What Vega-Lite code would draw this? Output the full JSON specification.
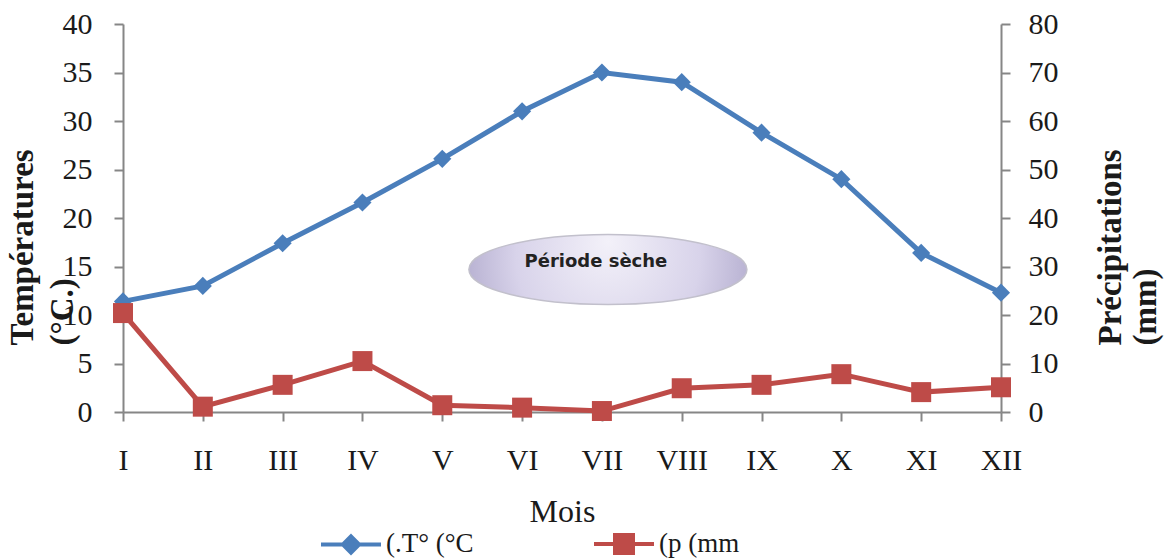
{
  "$schema": "https://vega.github.io/schema/vega-lite/v6.json",
  "width": 878,
  "height": 388,
  "autosize": {"type": "none"},
  "padding": {"left": 123, "top": 24, "right": 164, "bottom": 148},
  "background": "white",
  "config": {
    "view": {"stroke": null},
    "font": "Liberation Serif",
    "axis": {
      "domainColor": "#868686",
      "domainWidth": 2,
      "tickColor": "#868686",
      "tickWidth": 2,
      "tickSize": 9,
      "grid": false,
      "labelFont": "Liberation Serif",
      "labelFontSize": 30,
      "labelColor": "#1a1a1a",
      "titleFont": "Liberation Serif",
      "titleColor": "#1a1a1a"
    }
  },
  "datasets": {
    "temperature": [
      {"mois": "I", "serie": "(.T° (°C", "valeur": 11.4},
      {"mois": "II", "serie": "(.T° (°C", "valeur": 13.0},
      {"mois": "III", "serie": "(.T° (°C", "valeur": 17.4},
      {"mois": "IV", "serie": "(.T° (°C", "valeur": 21.6},
      {"mois": "V", "serie": "(.T° (°C", "valeur": 26.1},
      {"mois": "VI", "serie": "(.T° (°C", "valeur": 31.0},
      {"mois": "VII", "serie": "(.T° (°C", "valeur": 35.0},
      {"mois": "VIII", "serie": "(.T° (°C", "valeur": 34.0},
      {"mois": "IX", "serie": "(.T° (°C", "valeur": 28.8},
      {"mois": "X", "serie": "(.T° (°C", "valeur": 24.0},
      {"mois": "XI", "serie": "(.T° (°C", "valeur": 16.4},
      {"mois": "XII", "serie": "(.T° (°C", "valeur": 12.3}
    ],
    "precipitation": [
      {"mois": "I", "serie": "(p (mm", "valeur": 20.4},
      {"mois": "II", "serie": "(p (mm", "valeur": 1.1},
      {"mois": "III", "serie": "(p (mm", "valeur": 5.6},
      {"mois": "IV", "serie": "(p (mm", "valeur": 10.5},
      {"mois": "V", "serie": "(p (mm", "valeur": 1.4},
      {"mois": "VI", "serie": "(p (mm", "valeur": 0.9},
      {"mois": "VII", "serie": "(p (mm", "valeur": 0.2},
      {"mois": "VIII", "serie": "(p (mm", "valeur": 4.9},
      {"mois": "IX", "serie": "(p (mm", "valeur": 5.6},
      {"mois": "X", "serie": "(p (mm", "valeur": 7.8},
      {"mois": "XI", "serie": "(p (mm", "valeur": 4.1},
      {"mois": "XII", "serie": "(p (mm", "valeur": 5.1}
    ],
    "periode": [
      {"mois": "VII", "valeur": 14.7, "texte": "Période sèche"}
    ]
  },
  "encoding": {
    "x": {
      "field": "mois",
      "type": "ordinal",
      "sort": ["I", "II", "III", "IV", "V", "VI", "VII", "VIII", "IX", "X", "XI", "XII"],
      "scale": {"type": "point", "padding": 0, "domain": ["I", "II", "III", "IV", "V", "VI", "VII", "VIII", "IX", "X", "XI", "XII"]},
      "axis": {
        "title": "Mois",
        "titleFontSize": 32,
        "titleFontWeight": "normal",
        "titlePadding": 21,
        "labelAngle": 0,
        "labelPadding": 24
      }
    }
  },
  "layer": [
    {
      "encoding": {
        "y": {
          "field": "valeur",
          "type": "quantitative",
          "scale": {"domain": [0, 40], "nice": false, "zero": true},
          "axis": {
            "orient": "left",
            "values": [0, 5, 10, 15, 20, 25, 30, 35, 40],
            "labelPadding": 22,
            "title": ["Températures", "(°C.)"],
            "titleFontSize": 33,
            "titleFontWeight": "bold",
            "titleAngle": -90,
            "titleAlign": "left",
            "titleBaseline": "top",
            "titleLineHeight": 40,
            "titleX": -117,
            "titleY": 321
          }
        }
      },
      "layer": [
        {
          "data": {"name": "periode"},
          "mark": {
            "type": "point",
            "shape": "M-1,0A1,0.252 0 1,1 1,0A1,0.252 0 1,1 -1,0Z",
            "size": 77284,
            "xOffset": 6,
            "filled": true,
            "opacity": 1,
            "fill": {
              "gradient": "radial",
              "x1": 0.5, "y1": 0.4, "x2": 0.5, "y2": 0.5,
              "r1": 0, "r2": 0.6,
              "stops": [
                {"offset": 0, "color": "#f3f1f9"},
                {"offset": 0.55, "color": "#d8d3ea"},
                {"offset": 1, "color": "#a8a1c6"}
              ]
            },
            "stroke": "#c2c0cc",
            "strokeWidth": 1.5
          }
        },
        {
          "data": {"name": "periode"},
          "mark": {
            "type": "text",
            "font": "DejaVu Sans",
            "fontWeight": "bold",
            "fontSize": 18,
            "color": "#222222",
            "dx": -6,
            "dy": -7
          },
          "encoding": {"text": {"field": "texte"}}
        },
        {
          "data": {"name": "temperature"},
          "mark": {"type": "line", "strokeWidth": 5},
          "encoding": {
            "color": {
              "field": "serie",
              "type": "nominal",
              "scale": {"domain": ["(.T° (°C", "(p (mm"], "range": ["#4a7ebb", "#be4b48"]},
              "legend": {
                "orient": "none",
                "legendX": 196,
                "legendY": 488,
                "direction": "horizontal",
                "columns": 2,
                "title": null,
                "padding": 0,
                "symbolSize": 3600,
                "symbolStrokeWidth": 4,
                "labelFont": "Liberation Serif",
                "labelFontSize": 27,
                "labelColor": "#1a1a1a",
                "labelOffset": 3,
                "columnPadding": 112,
                "encode": {
                  "symbols": {
                    "update": {
                      "shape": {"signal": "datum.value === '(.T° (°C' ? 'M-1,0H1M0,-0.27L0.27,0L0,0.27L-0.27,0Z' : 'M-1,0H1M-0.3,-0.3H0.3V0.3H-0.3Z'"},
                      "fill": {"signal": "datum.value === '(.T° (°C' ? '#4a7ebb' : '#be4b48'"},
                      "stroke": {"signal": "datum.value === '(.T° (°C' ? '#4a7ebb' : '#be4b48'"},
                      "strokeWidth": {"value": 4},
                      "opacity": {"value": 1}
                    }
                  }
                }
              }
            }
          }
        },
        {
          "data": {"name": "temperature"},
          "mark": {"type": "point", "shape": "diamond", "filled": true, "size": 330, "color": "#4a7ebb", "opacity": 1}
        }
      ]
    },
    {
      "encoding": {
        "y": {
          "field": "valeur",
          "type": "quantitative",
          "scale": {"domain": [0, 80], "nice": false, "zero": true},
          "axis": {
            "orient": "right",
            "values": [0, 10, 20, 30, 40, 50, 60, 70, 80],
            "labelPadding": 18,
            "title": ["Précipitations", "(mm)"],
            "titleFontSize": 33,
            "titleFontWeight": "bold",
            "titleAngle": -90,
            "titleAlign": "left",
            "titleBaseline": "top",
            "titleLineHeight": 35,
            "titleX": 93,
            "titleY": 321
          }
        }
      },
      "layer": [
        {
          "data": {"name": "precipitation"},
          "mark": {"type": "line", "strokeWidth": 5},
          "encoding": {
            "color": {"field": "serie", "type": "nominal"}
          }
        },
        {
          "data": {"name": "precipitation"},
          "mark": {"type": "point", "shape": "square", "filled": true, "size": 400, "color": "#be4b48", "opacity": 1}
        }
      ]
    }
  ],
  "resolve": {"scale": {"y": "independent"}}
}
